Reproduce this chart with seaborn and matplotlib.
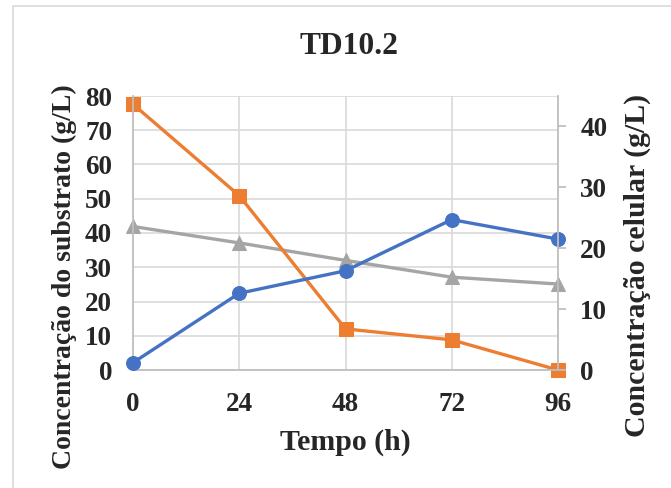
import matplotlib
matplotlib.use("Agg")
import matplotlib.pyplot as plt
import matplotlib.patches as mpatches
import seaborn as sns
import pandas as pd

# Sampling times (h)
tempo = [0, 24, 48, 72, 96]
# Substrate concentration (g/L), left axis
substrato = [77.6, 50.9, 12.0, 8.8, 0.0]
# Second substrate series (g/L), left axis
substrato_2 = [41.9, 37.1, 32.0, 27.1, 25.1]
# Cell concentration (g/L), right axis
celular = [1.2, 12.6, 16.3, 24.7, 21.5]

x_ticks = [0, 24, 48, 72, 96]
left_ticks = [0, 10, 20, 30, 40, 50, 60, 70, 80]
right_ticks = [0, 10, 20, 30, 40]

df = pd.DataFrame({"tempo": tempo, "substrato": substrato,
                   "substrato_2": substrato_2, "celular": celular})

sns.set_theme(style="white")
plt.rcParams["font.family"] = ["Liberation Serif", "DejaVu Serif"]
plt.rcParams["font.weight"] = "bold"

ORANGE = "#ED7D31"
BLUE = "#4472C4"
GRAY = "#A5A5A5"
GRID = "#D9D9D9"
SPINE = "#BFBFBF"

fig = plt.figure(figsize=(6.71, 4.88), dpi=100)
fig.patch.set_facecolor("white")

# chart-area border
fig.add_artist(mpatches.Rectangle((12.5 / 671, -0.1), 1.0, 1.1 - 6.5 / 488,
                                  transform=fig.transFigure, fill=False,
                                  edgecolor=GRID, linewidth=1.2))

ax = fig.add_axes([133 / 671, 1 - 370 / 488, (558 - 133) / 671, (370 - 96) / 488])
ax2 = ax.twinx()

line_kw = dict(linewidth=2.4, markersize=10, clip_on=False)
sns.lineplot(data=df, x="tempo", y="substrato_2", ax=ax, color=GRAY,
             marker="^", markeredgecolor=GRAY, **line_kw)
sns.lineplot(data=df, x="tempo", y="substrato", ax=ax, color=ORANGE,
             marker="s", markeredgecolor=ORANGE, **line_kw)
sns.lineplot(data=df, x="tempo", y="celular", ax=ax2, color=BLUE,
             marker="o", markeredgecolor=BLUE, **line_kw)

ax.set_xlim(0, 96)
ax.set_ylim(0, 80)
ax2.set_ylim(0, 45)
ax.set_xticks(x_ticks)
ax.set_yticks(left_ticks)
ax2.set_yticks(right_ticks)

ax.grid(True, color=GRID, linewidth=1.2)
ax.set_axisbelow(True)
ax2.grid(False)

for a in (ax, ax2):
    for s in a.spines.values():
        s.set_visible(False)
for a, side in ((ax, "left"), (ax, "bottom"), (ax2, "right")):
    a.spines[side].set_visible(True)
    a.spines[side].set_color(SPINE)
    a.spines[side].set_linewidth(1.3)

ax.tick_params(axis="x", length=0, pad=16, labelsize=19.5)
ax.tick_params(axis="y", length=0, pad=15, labelsize=19.5)
ax2.tick_params(axis="y", length=6, width=1.3, color=SPINE, direction="out",
                pad=10, labelsize=19.5)
for lab in ax.get_xticklabels() + ax.get_yticklabels() + ax2.get_yticklabels():
    lab.set_fontweight("bold")

ax.set_xlabel("Tempo (h)", fontsize=21.5, fontweight="bold", labelpad=8)
ax.set_ylabel("Concentração do substrato (g/L)", fontsize=20, fontweight="bold")
ax2.set_ylabel("Concentração celular (g/L)", fontsize=21.5, fontweight="bold")
ax.yaxis.set_label_coords(-0.132, 0.339)
ax2.yaxis.set_label_coords(1.155, 0.383)

fig.text(349 / 671, 1 - 47 / 488, "TD10.2", ha="center", va="center",
         fontsize=22.7, fontweight="bold")

fig.savefig("out.png", dpi=100)
